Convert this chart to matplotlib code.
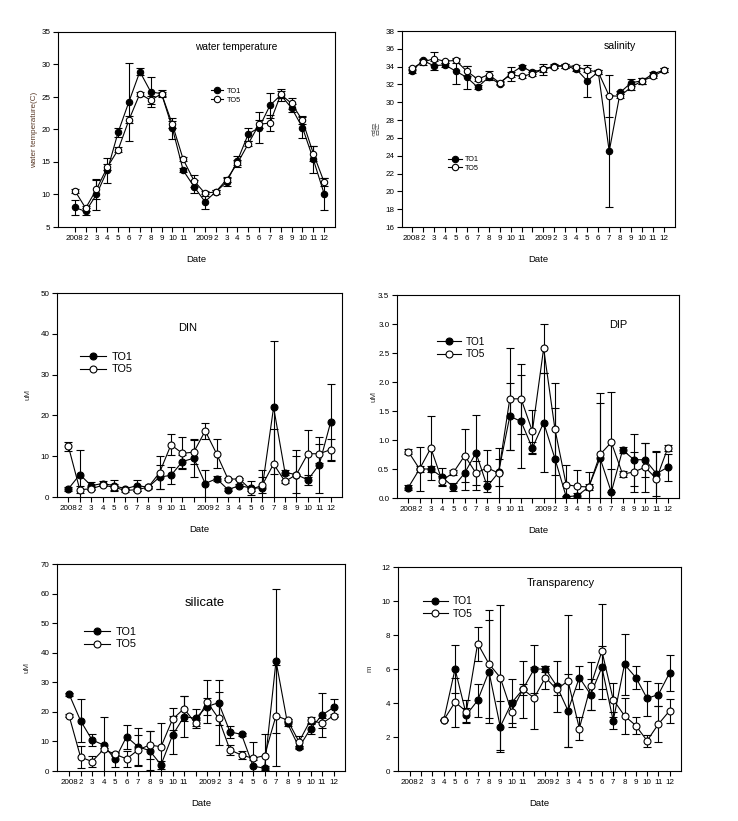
import numpy as np
import matplotlib
matplotlib.use("Agg")
import matplotlib.pyplot as plt

plt.rcParams["font.family"] = ["Liberation Sans", "DejaVu Sans"]

# months Jan 2008 .. Dec 2009 -> positions 0..23
months = list(range(24))
tick_labels = ["2008", "2", "3", "4", "5", "6", "7", "8", "9", "10", "11", "",
               "2009", "2", "3", "4", "5", "6", "7", "8", "9", "10", "11", "12"]
nan = np.nan

# water temperature (C)
temp_to1 = [8.0, 7.4, 10.0, 13.7, 19.6, 24.3, 28.9, 25.8, 25.5, 20.2, 13.7, 11.2,
            8.9, 10.4, 11.9, 15.2, 19.3, 20.3, 23.7, 25.3, 23.3, 20.3, 15.4, 10.1]
temp_to1_err = [1.2, 0.5, 2.4, 1.9, 0.7, 6.0, 0.5, 2.3, 0.5, 1.6, 0.3, 1.0,
                1.2, 0.3, 0.6, 0.7, 1.0, 2.4, 1.9, 0.9, 0.6, 1.6, 2.1, 2.5]
temp_to5 = [10.6, 7.9, 10.8, 14.2, 16.9, 21.5, 25.5, 24.5, 25.5, 20.8, 15.4, 12.1,
            10.2, 10.4, 12.3, 14.8, 17.8, 20.8, 21.0, 25.4, 24.0, 21.4, 16.3, 11.9]
temp_to5_err = [0.3, 0.4, 1.5, 0.5, 0.4, 0.5, 0.3, 0.6, 0.3, 0.5, 0.3, 0.9,
                0.4, 0.3, 0.4, 0.5, 0.4, 0.6, 1.3, 0.5, 0.8, 0.6, 1.2, 0.6]

# salinity
sal_to1 = [33.5, 34.7, 34.1, 34.2, 33.5, 32.8, 31.7, 32.8, 32.1, 33.2, 34.0, 33.4,
           33.7, 34.1, 34.1, 33.7, 32.4, 33.4, 24.5, 31.1, 32.2, 32.4, 33.2, 33.6]
sal_to1_err = [0.2, 0.2, 0.5, 0.2, 1.4, 1.3, 0.2, 0.3, 0.2, 0.8, 0.2, 0.2,
               0.3, 0.2, 0.2, 0.2, 1.8, 0.2, 6.3, 0.2, 0.4, 0.3, 0.2, 0.2]
sal_to5 = [33.8, 34.5, 34.9, 34.6, 34.7, 33.5, 32.6, 33.1, 32.2, 33.1, 32.9, 33.2,
           33.7, 34.0, 34.1, 34.0, 33.6, 33.4, 30.7, 30.7, 31.7, 32.4, 32.9, 33.6]
sal_to5_err = [0.2, 0.3, 0.7, 0.2, 0.3, 0.6, 0.2, 0.4, 0.2, 0.3, 0.2, 0.2,
               0.6, 0.2, 0.2, 0.2, 0.2, 0.2, 2.4, 0.2, 0.3, 0.3, 0.2, 0.2]

# DIN (uM)
din_to1 = [2.0, 5.5, 2.8, 3.3, 2.8, 2.0, 2.8, 2.4, 4.9, 5.3, 8.7, 9.5,
           3.3, 4.5, 1.8, 2.8, 2.2, 2.2, 22.0, 6.0, 5.5, 4.2, 7.9, 18.3]
din_to1_err = [0.5, 6.0, 0.8, 0.5, 1.3, 0.4, 1.3, 0.4, 2.9, 2.0, 1.6, 4.6,
               3.3, 0.6, 0.3, 0.4, 1.8, 4.3, 16.3, 0.5, 4.5, 1.2, 6.9, 9.5]
din_to5 = [12.4, 1.8, 2.0, 2.9, 2.4, 1.6, 1.8, 2.4, 6.0, 12.8, 10.7, 11.0,
           16.2, 10.6, 4.4, 4.4, 1.8, 2.9, 8.1, 3.8, 5.5, 10.6, 10.6, 11.6]
din_to5_err = [1.2, 0.8, 0.4, 0.3, 0.8, 0.3, 0.4, 0.3, 4.0, 2.6, 3.9, 3.0,
               2.0, 3.5, 0.3, 0.3, 0.4, 2.0, 8.5, 0.4, 6.0, 5.8, 2.3, 2.5]

# DIP (uM)
dip_to1 = [0.18, 0.50, 0.50, 0.36, 0.19, 0.43, 0.78, 0.20, 0.44, 1.41, 1.32, 0.86,
           1.30, 0.68, 0.02, 0.04, 0.19, 0.69, 0.10, 0.83, 0.66, 0.66, 0.42, 0.53]
dip_to1_err = [0.05, 0.38, 0.05, 0.16, 0.07, 0.30, 0.65, 0.10, 0.23, 0.58, 0.80, 0.10,
               0.85, 0.87, 0.02, 0.04, 0.05, 0.95, 0.40, 0.05, 0.45, 0.29, 0.38, 0.23]
dip_to5 = [0.80, 0.50, 0.86, 0.30, 0.44, 0.73, 0.43, 0.52, 0.43, 1.71, 1.71, 1.15,
           2.58, 1.19, 0.23, 0.20, 0.19, 0.75, 0.96, 0.41, 0.45, 0.53, 0.33, 0.86]
dip_to5_err = [0.04, 0.05, 0.55, 0.08, 0.05, 0.46, 0.20, 0.31, 0.44, 0.88, 0.60, 0.37,
               0.42, 0.79, 0.34, 0.28, 0.25, 1.06, 0.86, 0.05, 0.34, 0.42, 0.48, 0.05]

# silicate (uM)
sil_to1 = [26.0, 17.0, 10.5, 8.8, 3.9, 11.6, 8.2, 6.9, 2.1, 12.1, 18.4, 17.8,
           21.8, 23.1, 13.2, 12.4, 1.7, 0.9, 37.2, 16.1, 8.0, 14.3, 18.9, 21.5]
sil_to1_err = [0.5, 7.2, 2.0, 9.5, 2.5, 4.0, 6.5, 6.5, 1.3, 6.4, 7.0, 3.3,
               3.0, 7.6, 2.0, 0.5, 8.0, 0.7, 24.3, 0.8, 0.5, 1.7, 7.5, 2.8]
sil_to5 = [18.7, 4.7, 3.2, 7.3, 5.7, 4.1, 7.1, 8.8, 8.2, 17.5, 21.1, 16.1,
           23.4, 17.8, 7.1, 5.4, 4.3, 5.2, 18.7, 17.2, 9.9, 17.2, 16.1, 18.7]
sil_to5_err = [0.5, 3.7, 1.8, 0.5, 0.5, 2.6, 5.0, 4.6, 8.2, 3.8, 4.2, 1.0,
               7.3, 9.0, 1.6, 1.4, 0.5, 7.2, 17.0, 0.5, 2.0, 1.0, 1.7, 0.6]

# transparency (m)
tr_to1 = [nan, nan, nan, 3.0, 6.0, 3.3, 4.15, 5.85, 2.6, 4.0, 4.8, 6.0,
          6.0, 5.0, 3.55, 5.5, 4.5, 6.1, 2.96, 6.27, 5.5, 4.27, 4.5, 5.78]
tr_to1_err = [nan, nan, nan, 0.0, 1.4, 0.4, 0.95, 3.05, 1.5, 1.4, 1.7, 1.4,
              0.2, 1.5, 2.15, 0.7, 0.9, 1.25, 0.5, 1.78, 0.7, 1.05, 0.7, 1.05]
tr_to5 = [nan, nan, nan, 3.0, 4.05, 3.5, 7.5, 6.3, 5.5, 3.5, 4.8, 4.3,
          5.5, 4.8, 5.3, 2.5, 5.0, 7.05, 4.2, 3.25, 2.67, 1.78, 2.76, 3.55]
tr_to5_err = [nan, nan, nan, 0.0, 1.45, 0.7, 1.0, 3.2, 4.25, 0.7, 0.3, 1.8,
              0.7, 0.3, 3.9, 0.7, 1.4, 2.8, 1.0, 1.05, 0.5, 0.35, 1.05, 0.7]

W, H = 738, 821
fig = plt.figure(figsize=(W / 100, H / 100), dpi=100)


def px_axes(l, r, t, b):
    return fig.add_axes([l / W, 1 - b / H, (r - l) / W, (b - t) / H])


# (box l,r,t,b), ylim, yticks, ylabel, title, title xy, title size,
# legend xy, legend size, handle length, ylabel offset, xlim left
panels = [
    dict(box=(58, 335, 32, 227), data=(temp_to1, temp_to1_err, temp_to5, temp_to5_err),
         ylim=(5, 35), yticks=np.arange(5, 36, 5), fmt="{:.0f}",
         ylabel="water temperature(C)", ylcolor="#5a3a28", ylx=-20,
         title="water temperature", txy=(236, 47), tsize=7.3,
         lxy=(211, 95.5), lsize=5.3, hlen=1.6, ms=4.6, xl=-1.55),
    dict(box=(402, 675, 31, 227), data=(sal_to1, sal_to1_err, sal_to5, sal_to5_err),
         ylim=(16, 38), yticks=np.arange(16, 39, 2), fmt="{:.0f}",
         ylabel="염분", ylcolor="#555555", ylx=-22,
         title="salinity", txy=(620, 46), tsize=7.6,
         lxy=(448, 164), lsize=5.2, hlen=1.9, ms=4.6, xl=-0.9),
    dict(box=(57, 342, 293, 497), data=(din_to1, din_to1_err, din_to5, din_to5_err),
         ylim=(0, 50), yticks=np.arange(0, 51, 10), fmt="{:.0f}",
         ylabel="uM", ylcolor="#333333", ylx=-26,
         title="DIN", txy=(188, 328), tsize=8,
         lxy=(80, 363), lsize=7.8, hlen=2.4, ms=5, xl=-1.0),
    dict(box=(397, 679, 295, 498), data=(dip_to1, dip_to1_err, dip_to5, dip_to5_err),
         ylim=(0, 3.5), yticks=np.arange(0, 3.51, 0.5), fmt="{:.1f}",
         ylabel="uM", ylcolor="#333333", ylx=-20,
         title="DIP", txy=(618, 325), tsize=7.9,
         lxy=(437, 348), lsize=7.2, hlen=2.4, ms=5, xl=-1.0),
    dict(box=(57, 345, 564, 771), data=(sil_to1, sil_to1_err, sil_to5, sil_to5_err),
         ylim=(0, 70), yticks=np.arange(0, 71, 10), fmt="{:.0f}",
         ylabel="uM", ylcolor="#333333", ylx=-26,
         title="silicate", txy=(205, 603), tsize=9.4,
         lxy=(84, 638), lsize=7.8, hlen=2.4, ms=5, xl=-1.05),
    dict(box=(398, 681, 567, 771), data=(tr_to1, tr_to1_err, tr_to5, tr_to5_err),
         ylim=(0, 12), yticks=np.arange(0, 13, 2), fmt="{:.0f}",
         ylabel="m", ylcolor="#333333", ylx=-24,
         title="Transparency", txy=(561, 583), tsize=8,
         lxy=(423, 607.5), lsize=7.4, hlen=2.4, ms=5, xl=-1.05),
]

for p in panels:
    l, r, t, b = p["box"]
    ax = px_axes(l, r, t, b)
    y1, e1, y5, e5 = p["data"]
    style = dict(fmt="-o", color="black", lw=0.8, elinewidth=0.8, capsize=3,
                 capthick=0.8, ms=p["ms"], mec="black", mew=0.8)
    c1 = ax.errorbar(months, y1, yerr=e1, mfc="black", label="TO1", zorder=3, **style)
    c5 = ax.errorbar(months, y5, yerr=e5, mfc="white", label="TO5", zorder=4, **style)

    ax.set_xlim(p["xl"], 24)
    ax.set_ylim(*p["ylim"])
    ax.set_xticks(months)
    ax.set_xticklabels(tick_labels)
    ax.set_yticks(p["yticks"])
    ax.set_yticklabels([p["fmt"].format(v) for v in p["yticks"]])
    ax.tick_params(direction="out", length=3.5, width=0.8, labelsize=5.8, pad=2)
    for s in ax.spines.values():
        s.set_linewidth(0.8)

    fam = ["Noto Sans CJK KR"] if p["ylabel"] == "염분" else None
    ax.set_ylabel(p["ylabel"], fontsize=5.8, color=p["ylcolor"], family=fam)
    ax.yaxis.set_label_coords(p["ylx"] / (r - l), 0.5)
    ax.set_xlabel("Date", fontsize=6.8)
    ax.xaxis.set_label_coords(0.5, -28 / (b - t))

    fig.text(p["txy"][0] / W, 1 - p["txy"][1] / H, p["title"], fontsize=p["tsize"],
             ha="center", va="center")

    ax.legend(handles=[c1.lines[0], c5.lines[0]], labels=["TO1", "TO5"],
              loc="center left", bbox_to_anchor=(p["lxy"][0] / W, 1 - p["lxy"][1] / H),
              bbox_transform=fig.transFigure, frameon=False, fontsize=p["lsize"],
              borderpad=0, borderaxespad=0, handlelength=p["hlen"],
              handletextpad=0.5, labelspacing=0.25, numpoints=1)

fig.savefig("out.png", dpi=100)
